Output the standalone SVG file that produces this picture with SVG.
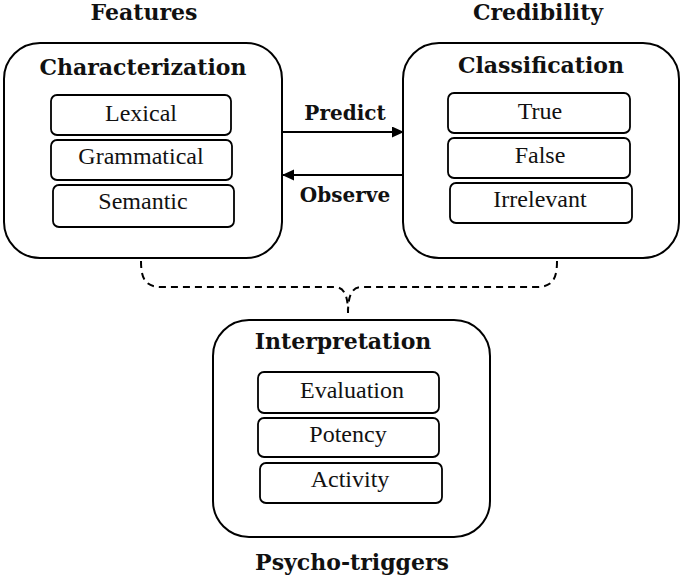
<svg xmlns="http://www.w3.org/2000/svg" width="685" height="579" viewBox="0 0 685 579">
<style>
.outer{fill:#fff;stroke:#000;stroke-width:2}
.inner{fill:#fff;stroke:#000;stroke-width:1.8}
.h{font-family:"DejaVu Serif",serif;font-weight:bold;font-size:22px;text-anchor:middle;fill:#111}
.lbl{font-family:"DejaVu Serif",serif;font-weight:bold;font-size:20px;text-anchor:middle;fill:#111}
.t{font-family:"Liberation Serif","Times New Roman",serif;font-size:24px;text-anchor:middle;fill:#111}
.conn{fill:none;stroke:#000;stroke-width:2}
.dash{fill:none;stroke:#000;stroke-width:2;stroke-dasharray:7,5}
</style>
<defs>
<marker id="arr" markerWidth="12" markerHeight="12" refX="11" refY="5.5" orient="auto" markerUnits="userSpaceOnUse">
<path d="M0,0 L12,5.5 L0,11 Z" fill="#000"/>
</marker>
</defs>
<rect width="685" height="579" fill="#fff"/>
<text class="h" x="144" y="20">Features</text>
<text class="h" x="538" y="20">Credibility</text>
<text class="h" x="352" y="570">Psycho-triggers</text>

<g id="characterization">
<rect class="outer" x="4" y="43" width="278" height="215" rx="36"/>
<text class="h" x="143" y="75">Characterization</text>
<g id="lexical"><rect class="inner" x="51" y="95" width="180" height="40" rx="6"/><text class="t" x="141" y="121">Lexical</text></g>
<g id="grammatical"><rect class="inner" x="51" y="140" width="181" height="40" rx="6"/><text class="t" x="141" y="164">Grammatical</text></g>
<g id="semantic"><rect class="inner" x="53" y="185" width="181" height="42" rx="6"/><text class="t" x="143" y="209">Semantic</text></g>
</g>

<g id="classification">
<rect class="outer" x="403" y="43" width="276" height="215" rx="36"/>
<text class="h" x="541" y="73">Classification</text>
<g id="true"><rect class="inner" x="448" y="93" width="182" height="40" rx="6"/><text class="t" x="540" y="119">True</text></g>
<g id="false"><rect class="inner" x="448" y="138" width="182" height="40" rx="6"/><text class="t" x="540" y="163">False</text></g>
<g id="irrelevant"><rect class="inner" x="450" y="183" width="182" height="40" rx="6"/><text class="t" x="540" y="207">Irrelevant</text></g>
</g>

<g id="interpretation">
<rect class="outer" x="213" y="320" width="277" height="217" rx="36"/>
<text class="h" x="343" y="349">Interpretation</text>
<g id="evaluation"><rect class="inner" x="258" y="372" width="181" height="41" rx="6"/><text class="t" x="352" y="398">Evaluation</text></g>
<g id="potency"><rect class="inner" x="258" y="418" width="181" height="39" rx="6"/><text class="t" x="348" y="442">Potency</text></g>
<g id="activity"><rect class="inner" x="260" y="463" width="182" height="40" rx="6"/><text class="t" x="350" y="487">Activity</text></g>
</g>

<g id="connectors">
<line class="conn" x1="282" y1="132" x2="403" y2="132" marker-end="url(#arr)"/>
<text class="lbl" x="345" y="120">Predict</text>
<line class="conn" x1="403" y1="175" x2="283" y2="175" marker-end="url(#arr)"/>
<text class="lbl" x="345" y="202">Observe</text>
<path class="dash" d="M141,261 C141,280 146,287 162,287 L334,287 C343,287 348,293 348,313"/>
<path class="dash" d="M557,261 C557,280 552,287 536,287 L362,287 C353,287 348,293 348,313"/>
</g>
</svg>
